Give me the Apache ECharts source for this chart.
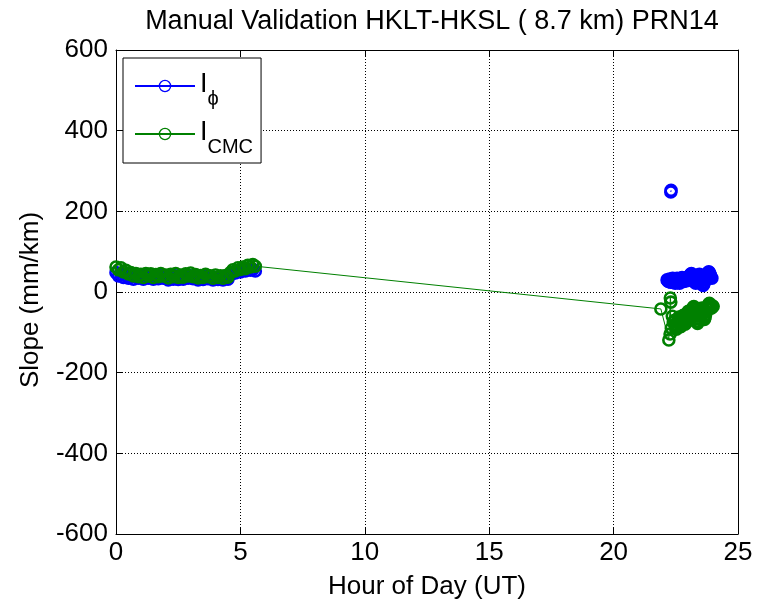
<!DOCTYPE html>
<html>
<head>
<meta charset="utf-8">
<script src="https://cdn.jsdelivr.net/npm/echarts@6/dist/echarts.min.js"></script>
<style>html,body{margin:0;padding:0;background:#fff}#c{width:762px;height:605px}</style>
</head>
<body>
<div id="c"></div>
<script>
const titleText = 'Manual Validation HKLT-HKSL ( 8.7 km) PRN14';
const xTicks = [0, 5, 10, 15, 20, 25];
const yTicks = [-600, -400, -200, 0, 200, 400, 600];

const blueHours = [
  0.0,0.1,0.2,0.3,0.4,0.5,0.6,0.7,0.8,0.9,1.0,1.1,1.2,1.3,1.4,1.5,1.6,1.7,1.8,1.9,
  2.0,2.1,2.2,2.3,2.4,2.5,2.6,2.7,2.8,2.9,3.0,3.1,3.2,3.3,3.4,3.5,3.6,3.7,3.8,3.9,
  4.0,4.1,4.2,4.3,4.4,4.5,4.6,4.7,4.8,4.9,5.0,5.1,5.2,5.3,5.4,5.5,5.6,
  5.7,
  22.3,22.31,
  22.32,
  22.15,22.175,22.2,22.225,22.25,22.275,22.3,22.325,22.35,22.375,22.4,22.425,22.45,22.475,22.5,22.525,22.55,22.575,22.6,22.625,
  22.65,22.675,22.7,22.725,22.75,22.775,22.8,22.825,22.85,22.875,22.9,22.925,22.95,22.975,23.0,23.025,23.05,23.075,23.1,23.125,
  23.15,23.175,23.2,23.225,23.25,23.275,23.3,23.325,23.35,23.375,23.4,23.425,23.45,23.475,23.5,23.525,23.55,23.575,23.6,23.625,
  23.65,23.675,23.7,23.725,23.75,23.775,23.8,23.825,23.85,23.875,23.9,23.925,23.95
];
const blueValues = [
  48,40,44,36,40,34,38,32,40,34,38,32,40,34,39,32,38,33,40,34,
  36,30,38,32,40,31,37,32,39,34,40,33,37,30,36,31,38,33,35,30,
  36,31,35,30,36,32,42,48,47,52,50,55,52,56,54,56,52,
  null,
  248,252,
  null,
  30,28,26,30,32,28,24,26,30,34,32,28,24,22,26,30,34,32,28,24,
  22,26,30,34,36,32,28,26,28,32,34,30,28,30,34,38,40,42,44,46,
  44,40,36,32,28,24,22,26,30,34,38,42,44,40,34,28,22,18,16,20,
  24,30,36,40,44,46,48,50,48,44,40,36,34
];

const greenHours = [
  0.0,0.1,0.2,0.3,0.4,0.5,0.6,0.7,0.8,0.9,1.0,1.1,1.2,1.3,1.4,1.5,1.6,1.7,1.8,1.9,
  2.0,2.1,2.2,2.3,2.4,2.5,2.6,2.7,2.8,2.9,3.0,3.1,3.2,3.3,3.4,3.5,3.6,3.7,3.8,3.9,
  4.0,4.1,4.2,4.3,4.4,4.5,4.6,4.7,4.8,4.9,5.0,5.1,5.2,5.3,5.4,5.5,5.6,
  21.9,22.22,22.28,22.3,22.27,22.32,22.36,22.4,
  22.45,22.475,22.5,22.525,22.55,22.575,22.6,22.625,22.65,22.675,22.7,22.725,22.75,22.775,22.8,22.825,22.85,22.875,22.9,22.925,
  22.95,22.975,23.0,23.025,23.05,23.075,23.1,23.125,23.15,23.175,23.2,23.225,23.25,23.275,23.3,23.325,23.35,23.375,23.4,23.425,
  23.45,23.475,23.5,23.525,23.55,23.575,23.6,23.625,23.65,23.675,23.7,23.725,23.75,23.775,23.8,23.825,23.85,23.875,23.9,23.925,
  23.95,23.975,24.0
];
const greenValues = [
  62,55,60,50,54,45,48,40,46,38,44,36,46,40,45,36,43,38,46,40,
  42,35,44,38,46,36,42,37,45,40,47,38,43,35,41,36,44,38,40,34,
  42,36,40,34,41,37,48,55,52,60,56,62,58,66,62,68,64,
  -42,-119,-15,-25,-104,-90,-60,-75,
  -70,-80,-88,-92,-85,-75,-68,-62,-70,-80,-86,-78,-70,-64,-58,-62,-72,-80,-74,-66,
  -58,-52,-48,-54,-62,-70,-64,-56,-48,-42,-38,-36,-42,-50,-58,-66,-72,-78,-74,-66,
  -58,-52,-46,-42,-40,-46,-54,-62,-68,-64,-56,-48,-42,-38,-34,-30,-28,-32,-36,-40,
  -38,-34,-36
];

function pairs(xs, ys) { return xs.map((x, i) => [x, ys[i]]); }

const chart = echarts.init(document.getElementById('c'));
const font = 'Liberation Sans, Arial, sans-serif';
const dotted = { show: true, lineStyle: { color: '#000', width: 1, type: [1, 2] } };
const boxLine = { show: true, onZero: false, lineStyle: { color: '#000', width: 1 } };
const inTick = { show: true, inside: true, length: 6, lineStyle: { color: '#000' } };

chart.setOption({
  animation: false,
  backgroundColor: '#fff',
  textStyle: { fontFamily: font, color: '#000' },
  title: {
    text: titleText, left: 427, top: 3, textAlign: 'center',
    textStyle: { fontFamily: font, fontSize: 27, fontWeight: 'normal', color: '#000' }
  },
  grid: { left: 116, right: 24, top: 50, bottom: 70, containLabel: false },
  legend: {
    orient: 'vertical', left: 123, top: 58,
    backgroundColor: '#fff', borderColor: '#000', borderWidth: 1,
    padding: [13, 8, 6, 11], itemWidth: 60, itemHeight: 14, itemGap: 10,
    itemStyle: { borderWidth: 1.3 },
    data: ['Iϕ', 'ICMC'],
    formatter: function (n) { return n === 'Iϕ' ? '{a|I}{b|ϕ}' : '{a|I}{b|CMC}'; },
    textStyle: {
      fontFamily: font, color: '#000',
      rich: {
        a: { fontSize: 27, fontFamily: font, verticalAlign: 'top', lineHeight: 30 },
        b: { fontSize: 20, fontFamily: font, verticalAlign: 'top', lineHeight: 20, padding: [18, 0, 0, 0] }
      }
    }
  },
  xAxis: [{
    type: 'value', min: 0, max: 25, interval: 5,
    name: 'Hour of Day (UT)', nameLocation: 'middle', nameGap: 40,
    nameTextStyle: { fontFamily: font, fontSize: 26, color: '#000' },
    axisLine: boxLine, axisTick: inTick,
    axisLabel: { fontFamily: font, fontSize: 26, color: '#000', margin: 6,
      formatter: v => xTicks.includes(v) ? String(v) : '' },
    splitLine: dotted
  }, {
    type: 'value', min: 0, max: 25, interval: 5, position: 'top',
    axisLine: boxLine, axisTick: inTick,
    axisLabel: { show: false }, splitLine: { show: false }
  }],
  yAxis: [{
    type: 'value', min: -600, max: 600, interval: 200,
    name: 'Slope (mm/km)', nameLocation: 'middle', nameGap: 72, nameRotate: 90,
    nameTextStyle: { fontFamily: font, fontSize: 26, color: '#000', padding: [0, 16, 0, 0] },
    axisLine: boxLine, axisTick: inTick,
    axisLabel: { fontFamily: font, fontSize: 26, color: '#000', margin: 8,
      formatter: v => yTicks.includes(v) ? String(v) : '' },
    splitLine: dotted
  }, {
    type: 'value', min: -600, max: 600, interval: 200, position: 'right',
    axisLine: boxLine, axisTick: inTick,
    axisLabel: { show: false }, splitLine: { show: false }
  }],
  series: [{
    name: 'Iϕ', type: 'line', data: pairs(blueHours, blueValues),
    symbol: 'circle', symbolSize: 11, showAllSymbol: true, connectNulls: false,
    color: '#0000ff',
    itemStyle: { color: 'rgba(0,0,0,0)', borderColor: '#0000ff', borderWidth: 2.6 },
    lineStyle: { color: '#0000ff', width: 1 }
  }, {
    name: 'ICMC', type: 'line', data: pairs(greenHours, greenValues),
    symbol: 'circle', symbolSize: 11, showAllSymbol: true, connectNulls: false,
    color: '#008000',
    itemStyle: { color: 'rgba(0,0,0,0)', borderColor: '#008000', borderWidth: 2.6 },
    lineStyle: { color: '#008000', width: 1 }
  }]
});
</script>
</body>
</html>
